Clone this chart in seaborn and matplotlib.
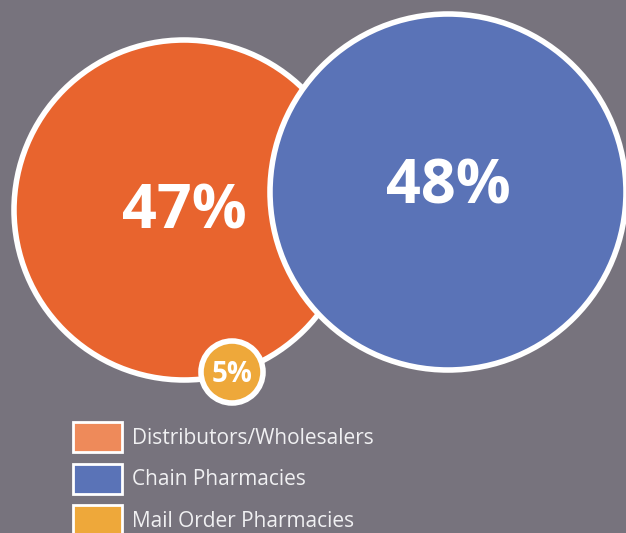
import matplotlib
matplotlib.use('Agg')
import matplotlib.pyplot as plt
from matplotlib.patches import Circle, Patch
import seaborn as sns

# data
categories = ['Distributors/Wholesalers', 'Chain Pharmacies', 'Mail Order Pharmacies']
shares = [47, 48, 5]
circle_colors = ['#e8642e', '#5a73b7', '#eea83a']
legend_colors = ['#ee8a5a', '#5a73b7', '#eea83a']

# layout (pixels): centre x, centre y, radius
centers = [(184, 210), (448, 192), (232, 372)]
radii = [170, 178, 31]
label_sizes = [44, 44, 20]
label_offsets = [(0, 3), (0, -4), (0, 2)]

sns.set_theme(style='white')
plt.rcParams['font.family'] = ['Open Sans', 'DejaVu Sans']

bg = '#77737d'
fig = plt.figure(figsize=(6.26, 5.33), dpi=100, facecolor=bg)
ax = fig.add_axes([0, 0, 1, 1])
ax.set_facecolor(bg)
ax.set_xlim(0, 626)
ax.set_ylim(533, 0)
ax.set_aspect('equal')
ax.axis('off')

# draw order: orange, blue on top, then the small one
for i in [0, 1, 2]:
    cx, cy = centers[i]
    ax.add_patch(Circle((cx, cy), radii[i], facecolor=circle_colors[i],
                        edgecolor='white', linewidth=4, zorder=i + 1))
    dx, dy = label_offsets[i]
    ax.text(cx + dx, cy + dy, f'{shares[i]}%', color='white',
            fontsize=label_sizes[i], fontweight='bold',
            ha='center', va='center', zorder=5)

handles = [Patch(facecolor=c, edgecolor='white', linewidth=2) for c in legend_colors]
leg = ax.legend(handles, categories, loc='upper left',
                bbox_to_anchor=(73 / 626, 1 - 422 / 533),
                frameon=False, borderpad=0, borderaxespad=0,
                fontsize=15, handlelength=2.35, handleheight=1.84,
                handletextpad=0.5, labelspacing=0.56)
for t in leg.get_texts():
    t.set_color('#f0f0f2')

plt.savefig('out.png', dpi=100, facecolor=bg)
